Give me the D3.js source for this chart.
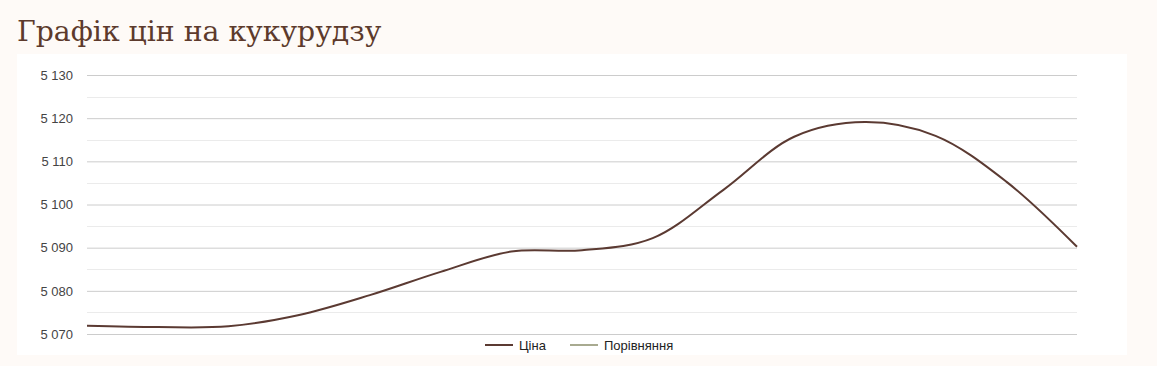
<!DOCTYPE html>
<html>
<head>
<meta charset="utf-8">
<script src="https://cdn.jsdelivr.net/npm/d3@7"></script>
<style>
  body { margin: 0; background: #fefaf7; }
  svg { display: block; }
</style>
</head>
<body>
<svg id="chart" width="1157" height="366"></svg>
<script>
// price points (15 days)
var days = d3.range(15);
var price = [5071.9, 5071.6, 5071.8, 5074.4, 5079.0, 5084.4, 5089.1, 5089.4,
  5092.2, 5103.4, 5115.7, 5119.1, 5115.9, 5105.3, 5090.2];
var comparison = []; // in legend only, nothing drawn
var yTicks = [5070, 5080, 5090, 5100, 5110, 5120, 5130];
var seriesNames = ["Ціна", "Порівняння"];
var seriesColors = ["#5b3a32", "#a8aa90"];

var svg = d3.select("svg"),
  margin = { top: 75, right: 80, bottom: 32, left: 87 },
  width = 1157 - margin.left - margin.right,
  height = 366 - margin.top - margin.bottom;

// title
svg.append("text")
  .attr("x", 17)
  .attr("y", 41)
  .style("font-family", "'DejaVu Serif', serif")
  .style("font-size", "28.3px")
  .style("fill", "#5d3a2c")
  .text("Графік цін на кукурудзу");

// white panel
svg.append("rect")
  .attr("x", 17).attr("y", 54)
  .attr("width", 1110).attr("height", 301)
  .style("fill", "#fff");

var x = d3.scaleLinear()
  .domain([0, days.length - 1])
  .range([0, width]);

var y = d3.scaleLinear()
  .domain([5070, 5130])
  .range([259, 0]);

var g = svg.append("g")
  .attr("transform", "translate(" + margin.left + "," + margin.top + ")");

// minor gridlines
g.selectAll("line.minor")
  .data(yTicks.slice(0, -1))
  .enter().append("line")
  .attr("class", "minor")
  .attr("x1", 0).attr("x2", width)
  .attr("y1", function(d) { return Math.round(y(d + 5)) + 0.5; })
  .attr("y2", function(d) { return Math.round(y(d + 5)) + 0.5; })
  .style("stroke", "#ebebeb");

// y axis with full-width grid
var yAxis = d3.axisLeft(y)
  .tickValues(yTicks)
  .tickSize(-width)
  .tickPadding(14)
  .tickFormat(function(d) { return d3.format(",")(d).replace(",", " "); });

var ag = g.append("g").call(yAxis);
ag.select(".domain").remove();
ag.selectAll(".tick line").style("stroke", "#cccccc");
ag.selectAll(".tick text")
  .style("font-family", "Arial, 'Liberation Sans', sans-serif")
  .style("font-size", "13px")
  .style("fill", "#444");

var line = d3.line()
  .x(function(d, i) { return x(days[i]); })
  .y(function(d) { return y(d); })
  .curve(d3.curveCatmullRom.alpha(0.5));

g.append("path")
  .datum(price)
  .attr("d", line)
  .style("fill", "none")
  .style("stroke", seriesColors[0])
  .style("stroke-width", 2);

// legend
var legendX = [485, 570];
var lg = svg.append("g").attr("transform", "translate(0,345)");
seriesNames.forEach(function(name, i) {
  lg.append("line")
    .attr("x1", legendX[i]).attr("x2", legendX[i] + 28)
    .attr("y1", 0).attr("y2", 0)
    .style("stroke", seriesColors[i])
    .style("stroke-width", 2);
  lg.append("text")
    .attr("x", legendX[i] + 34)
    .attr("y", 5)
    .style("font-family", "Arial, 'Liberation Sans', sans-serif")
    .style("font-size", "13px")
    .style("fill", "#222")
    .text(name);
});
</script>
</body>
</html>
